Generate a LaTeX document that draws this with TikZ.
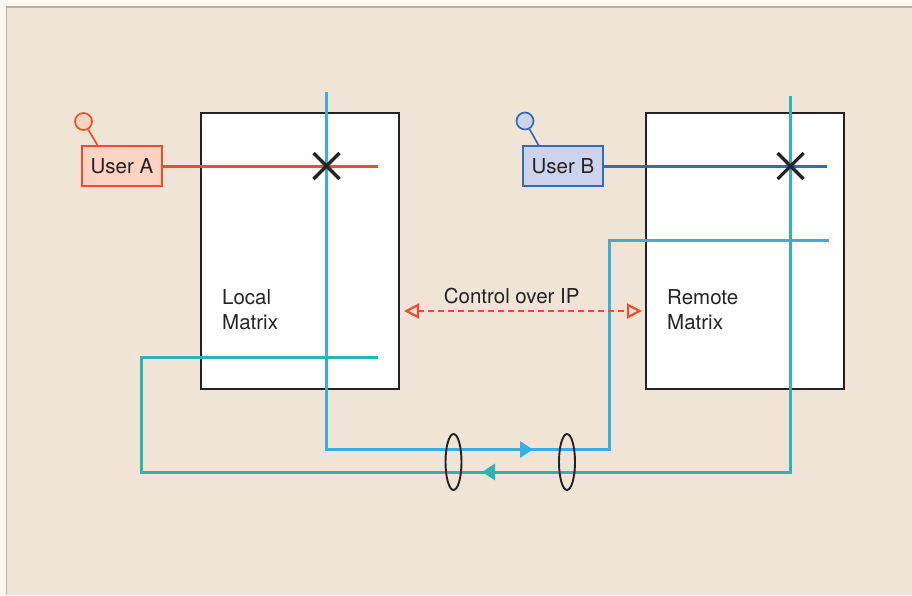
\documentclass[tikz,border=0pt]{standalone}
\usepackage{fontspec}
\setmainfont{TeX Gyre Heros}
\usetikzlibrary{arrows.meta,shapes.geometric,calc}
\definecolor{bgc}{HTML}{F0E4D6}
\definecolor{outerc}{HTML}{FEF7F0}
\definecolor{framec}{HTML}{B8B0A8}
\definecolor{redc}{HTML}{EA4E2C}
\definecolor{salmonc}{HTML}{FAD3C3}
\definecolor{dbluec}{HTML}{2F6DB5}
\definecolor{lavc}{HTML}{CDD3EC}
\definecolor{cyanc}{HTML}{3DADE0}
\definecolor{tealc}{HTML}{2DB4B0}
\definecolor{inkc}{HTML}{262223}
\begin{document}
\begin{tikzpicture}[x=1pt,y=-1pt,
  txt/.style={font=\fontsize{20.5}{25}\selectfont, text=inkc, inner sep=0pt},
  matrixbox/.style={draw=inkc, line width=2pt, fill=white, minimum width=198pt, minimum height=276pt, inner sep=0pt},
  userbox/.style={line width=1.9pt, minimum width=80pt, minimum height=40pt, inner sep=0pt, font=\fontsize{20.5}{25}\selectfont, text=inkc},
  userdot/.style={circle, line width=1.7pt, minimum size=17pt, inner sep=0pt},
  sigline/.style={line width=3pt},
  crossmark/.style={draw=inkc, line width=3.2pt},
  ringmark/.style={ellipse, draw=inkc, line width=1.9pt, minimum width=16pt, minimum height=56pt, inner sep=0pt},
  midtip/.style={-{Triangle[length=13pt,width=16pt]}}
]
\useasboundingbox (0,0) rectangle (912,595);
% background
\fill[outerc] (0,0) rectangle (912,595);
\fill[bgc] (6.5,7) rectangle (912,595);
\draw[framec, line width=1.2pt] (6.5,595) -- (6.5,7) -- (912,7);

% matrix boxes
\node[matrixbox] (local) at (300,251) {};
\node[matrixbox] (remote) at (744.5,251) {};
\node[txt, anchor=base west] (localt1) at (222,304) {Local};
\node[txt, anchor=base west] (localt2) at (222,329) {Matrix};
\node[txt, anchor=base west] (remotet1) at (667,304) {Remote};
\node[txt, anchor=base west] (remotet2) at (667,329) {Matrix};

% users
\node[userbox, draw=redc, fill=salmonc] (userA) at (122,166) {User A};
\node[userdot, draw=redc, fill=salmonc] (userAc) at (83.5,121.5) {};
\draw[redc, line width=1.7pt] (userAc) -- (98,146);
\node[userbox, draw=dbluec, fill=lavc] (userB) at (563,166) {User B};
\node[userdot, draw=dbluec, fill=lavc] (userBc) at (525,121) {};
\draw[dbluec, line width=1.7pt] (userBc) -- (539,146);

% coordinates
\coordinate (aEnd) at (378,166);
\coordinate (xA) at (326.5,166);
\coordinate (bEnd) at (827,166);
\coordinate (xB) at (790.5,166);
\coordinate (c1) at (326.5,92);
\coordinate (c2) at (326.5,449.5);
\coordinate (c3) at (609.5,449.5);
\coordinate (c4) at (609.5,240.5);
\coordinate (c5) at (829,240.5);
\coordinate (t1) at (378,357);
\coordinate (t2) at (141.5,357);
\coordinate (t3) at (141.5,472);
\coordinate (t4) at (790.5,472);
\coordinate (t5) at (790.5,96);
\coordinate (bTail) at (515,449.5);
\coordinate (bTip) at (533,449.5);
\coordinate (tTail) at (500,472);
\coordinate (tTip) at (482,472);
\coordinate (ctlL) at (404,311);
\coordinate (ctlR) at (642,311);

% signal lines
\draw[sigline, redc] (userA.east) -- (aEnd);
\draw[sigline, dbluec] (userB.east) -- (bEnd);
\draw[sigline, cyanc] (c1) -- (c2) -- (c3) -- (c4) -- (c5);
\draw[sigline, tealc] (t1) -- (t2) -- (t3) -- (t4) -- (t5);
\draw[sigline, cyanc, midtip] (bTail) -- (bTip);
\draw[sigline, tealc, midtip] (tTail) -- (tTip);

% crosspoints
\draw[crossmark] ($(xA)+(-13,-13)$) -- ($(xA)+(13,13)$);
\draw[crossmark] ($(xA)+(-13,13)$) -- ($(xA)+(13,-13)$);
\draw[crossmark] ($(xB)+(-13,-13)$) -- ($(xB)+(13,13)$);
\draw[crossmark] ($(xB)+(-13,13)$) -- ($(xB)+(13,-13)$);

% cable rings
\node[ringmark] (ring1) at (453.5,462) {};
\node[ringmark] (ring2) at (567,462) {};

% control over IP
\node[txt, anchor=base] (ctl) at (511.7,303.5) {Control over IP};
\draw[redc, line width=2.2pt, dash pattern=on 6pt off 4pt,
  {Triangle[open,length=15pt,width=15pt,fill=bgc]}-{Triangle[open,length=15pt,width=15pt,fill=bgc]}] (ctlL) -- (ctlR);
\end{tikzpicture}
\end{document}
